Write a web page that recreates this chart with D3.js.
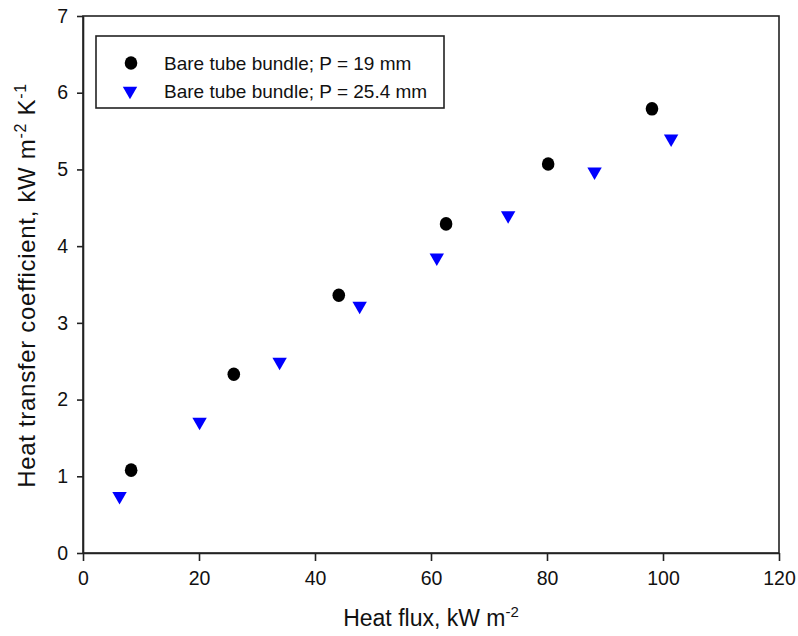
<!DOCTYPE html>
<html>
<head>
<meta charset="utf-8">
<script src="https://cdn.jsdelivr.net/npm/d3@7"></script>
<style>
  body { margin: 0; background: #fff; }
  svg text { font-family: Arial, "Liberation Sans", sans-serif; fill: #111; }
</style>
</head>
<body>
<div id="chart"></div>
<script>
// Bare tube bundle, P = 19 mm
const fluxP19 = [8.3, 26.0, 44.1, 62.6, 80.2, 98.1];
const htcP19 = [1.08, 2.33, 3.36, 4.29, 5.07, 5.79];
// Bare tube bundle, P = 25.4 mm
const fluxP25 = [6.3, 20.1, 33.9, 47.7, 61.0, 73.3, 88.2, 101.4];
const htcP25 = [0.74, 1.71, 2.49, 3.22, 3.85, 4.40, 4.97, 5.40];

const xTicks = [0, 20, 40, 60, 80, 100, 120];
const yTicks = [0, 1, 2, 3, 4, 5, 6, 7];
const seriesNames = ["Bare tube bundle; P = 19 mm", "Bare tube bundle; P = 25.4 mm"];

const W = 798, H = 636;
const margin = { top: 16, right: 19, bottom: 83, left: 83 };
const width = W - margin.left - margin.right;
const height = H - margin.top - margin.bottom;

const svg = d3.select("#chart").append("svg")
  .attr("width", W).attr("height", H);
const g = svg.append("g").attr("transform", `translate(${margin.left},${margin.top})`);

const x = d3.scaleLinear().domain([0, 120]).range([0, width]);
const y = d3.scaleLinear().domain([0, 7]).range([height, 0]);

// frame
g.append("rect")
  .attr("width", width).attr("height", height)
  .attr("fill", "none").attr("stroke", "#222").attr("stroke-width", 1.6);

const xAxis = g.append("g")
  .attr("transform", `translate(0,${height})`)
  .call(d3.axisBottom(x).tickValues(xTicks).tickFormat(d3.format("d"))
    .tickSize(8).tickPadding(10).tickSizeOuter(0));
const yAxis = g.append("g")
  .call(d3.axisLeft(y).tickValues(yTicks).tickFormat(d3.format("d"))
    .tickSize(6).tickPadding(9).tickSizeOuter(0));

[xAxis, yAxis].forEach(a => {
  a.select(".domain").attr("stroke", "#222").attr("stroke-width", 1.6);
  a.selectAll(".tick line").attr("stroke", "#222").attr("stroke-width", 1.6);
  a.selectAll(".tick text").attr("font-size", 19.5).attr("fill", "#111")
    .style("font-family", "Arial, 'Liberation Sans', sans-serif");
});

const tri = d3.symbol().type(d3.symbolTriangle).size(90);

const p19 = fluxP19.map((v, i) => ({ x: v, y: htcP19[i] }));
const p25 = fluxP25.map((v, i) => ({ x: v, y: htcP25[i] }));

g.selectAll(".c19").data(p19).join("ellipse")
  .attr("cx", d => x(d.x)).attr("cy", d => y(d.y))
  .attr("rx", 6.3).attr("ry", 6.8).attr("fill", "#000");

g.selectAll(".t25").data(p25).join("path")
  .attr("d", tri)
  .attr("transform", d => `translate(${x(d.x)},${y(d.y)}) rotate(180)`)
  .attr("fill", "#0000ff");

// legend
const lg = svg.append("g");
lg.append("rect")
  .attr("x", 96).attr("y", 36).attr("width", 348).attr("height", 72)
  .attr("fill", "#fff").attr("stroke", "#222").attr("stroke-width", 1.6);
lg.append("ellipse").attr("cx", 131).attr("cy", 63).attr("rx", 6.3).attr("ry", 6.8).attr("fill", "#000");
lg.append("path").attr("d", tri).attr("transform", "translate(130,91) rotate(180)").attr("fill", "#0000ff");
lg.selectAll(".lt").data(seriesNames).join("text")
  .attr("x", 164).attr("y", (d, i) => 70 + i * 28)
  .attr("font-size", 19).text(d => d);

// axis titles
const xt = svg.append("text")
  .attr("x", margin.left + x(60)).attr("y", 626)
  .attr("text-anchor", "middle").attr("font-size", 23);
xt.append("tspan").text("Heat flux, kW m");
xt.append("tspan").attr("font-size", 15).attr("dy", -9).text("-2");

const yt = svg.append("text")
  .attr("transform", `translate(35,${margin.top + y(3.5) + 1}) rotate(-90)`)
  .attr("text-anchor", "middle").attr("font-size", 24)
  .attr("letter-spacing", 0.7);
yt.append("tspan").text("Heat transfer coefficient, kW m");
yt.append("tspan").attr("font-size", 16).attr("dy", -9).text("-2");
yt.append("tspan").attr("dy", 9).text(" K");
yt.append("tspan").attr("font-size", 16).attr("dy", -9).text("-1");
</script>
</body>
</html>
